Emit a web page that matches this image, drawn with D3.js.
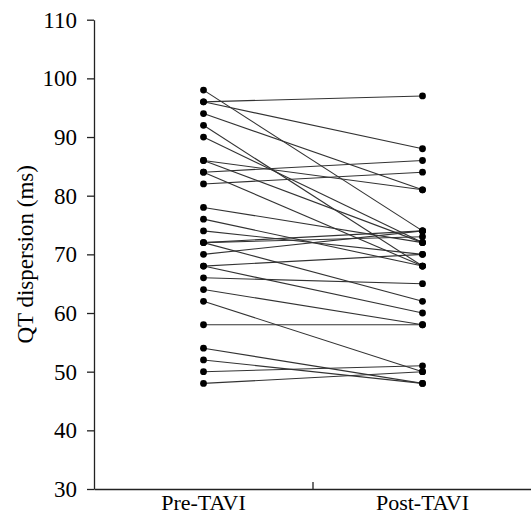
<!DOCTYPE html>
<html>
<head>
<meta charset="utf-8">
<script src="https://cdn.jsdelivr.net/npm/d3@7"></script>
<style>
    html, body { margin: 0; padding: 0; background: #fff; }
    svg text { font-family: "Liberation Serif", "Times New Roman", serif; fill: #000; }
</style>
</head>
<body>
<div id="chart"></div>
<script>
// Paired QT dispersion, before and after TAVI (one entry per patient)
const groups = ['Pre-TAVI', 'Post-TAVI'];
const preValues  = [98, 96, 96, 94, 92, 90, 86, 86, 84, 84, 82, 78, 76, 74, 72, 72, 72, 70, 68, 68, 66, 64, 62, 58, 54, 52, 50, 48];
const postValues = [74, 97, 88, 81, 68, 72, 81, 72, 86, 68, 84, 72, 68, 70, 73, 74, 62, 74, 70, 60, 65, 58, 50, 58, 48, 48, 51, 50];
const yTicks = [30, 40, 50, 60, 70, 80, 90, 100, 110];
const yLabel = 'QT dispersion (ms)';

const W = 531, H = 517;
const axisColor = '#222';
const FONT = '"Liberation Serif", "Times New Roman", serif';

const svg = d3.select('#chart').append('svg')
    .attr('width', W)
    .attr('height', H);

const x = d3.scaleBand()
    .domain(groups)
    .range([94, 532]);

const y = d3.scaleLinear()
    .domain([30, 110])
    .range([489, 19.7]);

// ── Axes ───────────────────────────────────────────
const yAxis = svg.append('g')
    .attr('transform', 'translate(94,0)')
    .call(d3.axisLeft(y).tickValues(yTicks).tickSize(7).tickPadding(10).tickSizeOuter(0));
yAxis.select('.domain').attr('stroke', axisColor).attr('stroke-width', 1.3);
yAxis.selectAll('.tick line').attr('stroke', axisColor).attr('stroke-width', 1.3);
yAxis.selectAll('.tick text')
    .attr('font-size', 23)
    .style('font-family', FONT)
    .attr('fill', '#000');

const xAxis = svg.append('g')
    .attr('transform', 'translate(0,489)')
    .call(d3.axisBottom(x).tickSize(0).tickPadding(5).tickSizeOuter(0));
xAxis.select('.domain').attr('stroke', axisColor).attr('stroke-width', 1.3);
xAxis.selectAll('.tick text')
    .attr('font-size', 22)
    .style('font-family', FONT)
    .attr('fill', '#000');

// divider tick between the two groups, pointing up
svg.append('line')
    .attr('x1', x('Post-TAVI')).attr('x2', x('Post-TAVI'))
    .attr('y1', y(30)).attr('y2', y(30) - 7)
    .attr('stroke', axisColor)
    .attr('stroke-width', 1.3);

svg.append('text')
    .attr('transform', `translate(33,${(y(30) + y(110)) / 2}) rotate(-90)`)
    .attr('text-anchor', 'middle')
    .attr('font-size', 23)
    .text(yLabel);

// ── Paired lines + points ───────────────────────────
const cx0 = x('Pre-TAVI') + x.bandwidth() / 2;
const cx1 = x('Post-TAVI') + x.bandwidth() / 2;
const pairs = preValues.map((v, i) => ({ pre: v, post: postValues[i] }));

svg.append('g')
    .selectAll('line')
    .data(pairs)
    .join('line')
    .attr('x1', cx0).attr('y1', d => y(d.pre))
    .attr('x2', cx1).attr('y2', d => y(d.post))
    .attr('stroke', '#333')
    .attr('stroke-width', 1.1);

const dots = svg.append('g');
dots.selectAll('circle.pre')
    .data(pairs)
    .join('circle')
    .attr('class', 'pre')
    .attr('cx', cx0).attr('cy', d => y(d.pre))
    .attr('r', 3.4)
    .attr('fill', '#000');
dots.selectAll('circle.post')
    .data(pairs)
    .join('circle')
    .attr('class', 'post')
    .attr('cx', cx1).attr('cy', d => y(d.post))
    .attr('r', 3.4)
    .attr('fill', '#000');
</script>
</body>
</html>
